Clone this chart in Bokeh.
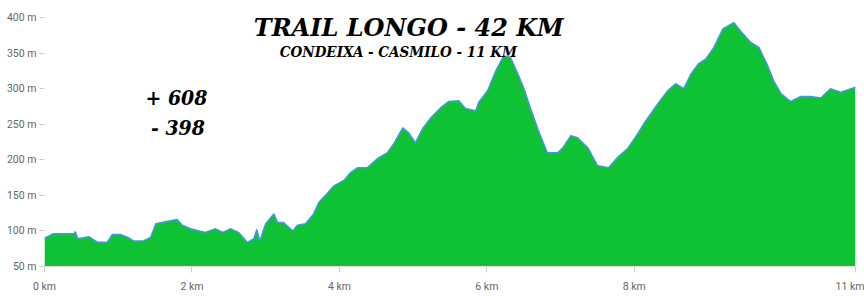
from bokeh.plotting import figure
from bokeh.models import Range1d, FixedTicker, CustomJSTickFormatter, Label
from bokeh.embed import file_html
from bokeh.resources import INLINE

# Elevation profile (distance in km, elevation in m)
dist_km = [0.00, 0.12, 0.40, 0.42, 0.45, 0.60, 0.72, 0.85, 0.92, 1.03, 1.13, 1.21,
           1.34, 1.44, 1.51, 1.64, 1.80, 1.87, 1.98, 2.18, 2.32, 2.42, 2.52, 2.63,
           2.75, 2.84, 2.88, 2.92, 3.00, 3.11, 3.16, 3.24, 3.37, 3.43, 3.54, 3.65,
           3.72, 3.81, 3.92, 4.06, 4.15, 4.25, 4.38, 4.52, 4.65, 4.74, 4.86, 4.94,
           5.03, 5.13, 5.24, 5.37, 5.48, 5.62, 5.71, 5.85, 5.89, 6.01, 6.12, 6.23,
           6.32, 6.42, 6.50, 6.59, 6.70, 6.82, 6.96, 7.03, 7.14, 7.23, 7.37, 7.50,
           7.65, 7.77, 7.91, 8.05, 8.13, 8.32, 8.45, 8.56, 8.67, 8.77, 8.87, 8.97,
           9.08, 9.20, 9.35, 9.44, 9.58, 9.69, 9.81, 9.89, 9.99, 10.12, 10.26, 10.39,
           10.53, 10.66, 10.80, 10.94, 11.00]
elev_m = [90, 96, 96, 99, 89, 92, 84, 84, 95, 95, 91, 86,
          86, 91, 110, 113, 116, 108, 103, 98, 103, 98, 103, 98,
          84, 89, 102, 86, 110, 124, 112, 112, 100, 108, 110, 124,
          140, 150, 163, 171, 182, 189, 189, 202, 210, 223, 245, 238,
          224, 244, 259, 273, 282, 283, 272, 269, 281, 297, 325, 346,
          344, 321, 301, 273, 241, 210, 210, 217, 234, 231, 217, 192,
          189, 203, 216, 237, 251, 279, 297, 307, 300, 321, 335, 342,
          358, 384, 393, 381, 365, 358, 332, 311, 293, 282, 289, 289,
          287, 300, 295, 300, 302]

x_ticks = [0, 2, 4, 6, 8, 11]
y_ticks = [50, 100, 150, 200, 250, 300, 350, 400]
base_elev = 50

title_text = "TRAIL LONGO - 42 KM"
subtitle_text = "CONDEIXA - CASMILO - 11 KM"
gain_text = "+ 608"
loss_text = "- 398"

p = figure(width=864, height=300, output_backend="svg", toolbar_location=None,
           x_range=Range1d(0, 11), y_range=Range1d(50, 424),
           min_border_left=44, min_border_right=9, min_border_top=0, min_border_bottom=34)
p.outline_line_color = None
p.background_fill_color = "white"
p.border_fill_color = "white"
p.xgrid.visible = False
p.ygrid.visible = False

p.varea(x=dist_km, y1=[base_elev] * len(dist_km), y2=elev_m, fill_color="#0fc233")
p.line(x=dist_km, y=elev_m, line_color="#4a94e4", line_width=1.5)

axis_font = "Roboto"
p.xaxis.ticker = FixedTicker(ticks=x_ticks)
p.xaxis.formatter = CustomJSTickFormatter(code="return tick + ' km'")
p.xaxis.axis_line_color = "#d8e8d8"
p.xaxis.major_tick_line_color = "#cccccc"
p.xaxis.major_tick_out = 6
p.xaxis.major_tick_in = 0
p.xaxis.minor_tick_line_color = None
p.xaxis.major_label_text_font = axis_font
p.xaxis.major_label_text_font_size = "10.5px"
p.xaxis.major_label_text_color = "#666666"
p.xaxis.major_label_standoff = 7

p.yaxis.ticker = FixedTicker(ticks=y_ticks)
p.yaxis.formatter = CustomJSTickFormatter(code="return tick + ' m'")
p.yaxis.axis_line_color = None
p.yaxis.major_tick_line_color = "#cccccc"
p.yaxis.major_tick_out = 5
p.yaxis.major_tick_in = 0
p.yaxis.minor_tick_line_color = None
p.yaxis.major_label_text_font = axis_font
p.yaxis.major_label_text_font_size = "10.5px"
p.yaxis.major_label_text_color = "#666666"
p.yaxis.major_label_standoff = 3

heavy = "DejaVu Serif"
heavy_c = "DejaVu Serif Condensed"
p.add_layout(Label(x=4.94, y=386, text=title_text, text_font=heavy, text_font_style="bold italic",
                   text_font_size="24px", text_align="center", text_baseline="alphabetic",
                   text_color="black"))
p.add_layout(Label(x=4.80, y=351, text=subtitle_text, text_font=heavy_c, text_font_style="bold italic",
                   text_font_size="15px", text_align="center", text_baseline="alphabetic",
                   text_color="black"))
p.add_layout(Label(x=1.79, y=287, text=gain_text, text_font=heavy_c, text_font_style="bold italic",
                   text_font_size="21px", text_align="center", text_baseline="alphabetic",
                   text_color="black"))
p.add_layout(Label(x=1.81, y=245, text=loss_text, text_font=heavy_c, text_font_style="bold italic",
                   text_font_size="21px", text_align="center", text_baseline="alphabetic",
                   text_color="black"))

open("out.html", "w").write(file_html(p, INLINE))
